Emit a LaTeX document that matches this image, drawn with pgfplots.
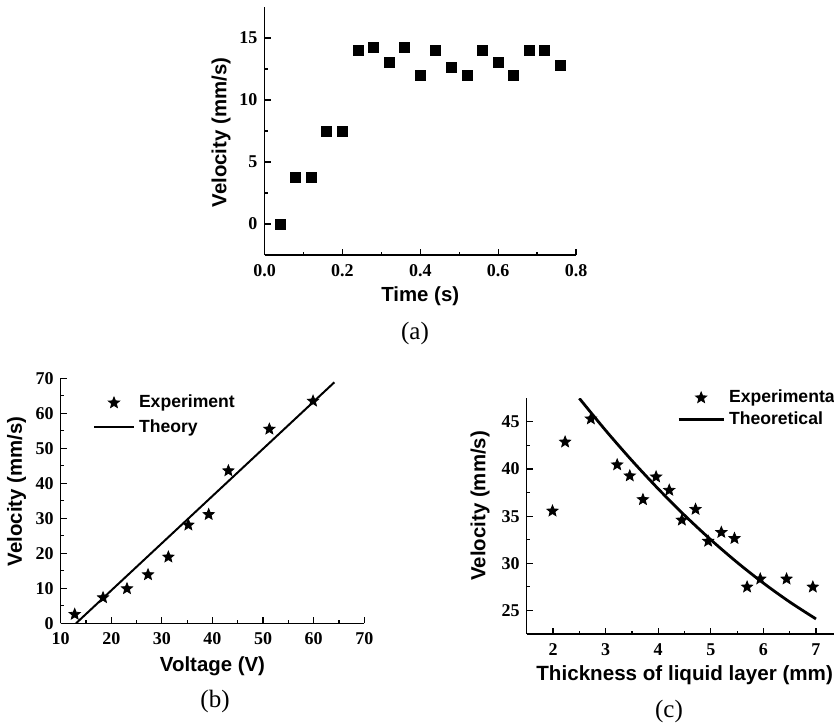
\documentclass[border=0pt]{standalone}
\usepackage{fontspec}
\setmainfont{Liberation Serif}
\setsansfont{Liberation Sans}
\usepackage{pgfplots}
\pgfplotsset{compat=1.18}

\pgfdeclareplotmark{fstar}{%
 \pgfpathmoveto{\pgfpointpolar{90}{\pgfplotmarksize}}%
 \pgfpathlineto{\pgfpointpolar{126}{0.44\pgfplotmarksize}}%
 \pgfpathlineto{\pgfpointpolar{162}{\pgfplotmarksize}}%
 \pgfpathlineto{\pgfpointpolar{198}{0.44\pgfplotmarksize}}%
 \pgfpathlineto{\pgfpointpolar{234}{\pgfplotmarksize}}%
 \pgfpathlineto{\pgfpointpolar{270}{0.44\pgfplotmarksize}}%
 \pgfpathlineto{\pgfpointpolar{306}{\pgfplotmarksize}}%
 \pgfpathlineto{\pgfpointpolar{342}{0.44\pgfplotmarksize}}%
 \pgfpathlineto{\pgfpointpolar{18}{\pgfplotmarksize}}%
 \pgfpathlineto{\pgfpointpolar{54}{0.44\pgfplotmarksize}}%
 \pgfpathclose
 \pgfusepathqfillstroke}

\pgfplotsset{
 myax/.style={
  scale only axis,
  axis x line*=bottom, axis y line*=left,
  axis line style={line width=0.7pt, -},
  tick align=inside,
  major tick length=3pt, minor tick length=1.6pt,
  every tick/.style={line width=0.6pt, black},
  minor tick num=1,
  tick label style={font=\bfseries\fontsize{9}{10}\selectfont},
  /pgf/number format/assume math mode=true,
  xticklabel style={yshift=-1.2pt},
  label style={font=\sffamily\bfseries\fontsize{10.2}{12}\selectfont, inner sep=0pt},
  legend style={draw=none, fill=none, inner sep=0pt, outer sep=0pt,
    font=\sffamily\bfseries\fontsize{8.8}{10}\selectfont,
    nodes={inner sep=0pt}, column sep=2pt},
  legend cell align=left,
 }
}

\begin{document}
\begin{tikzpicture}
% ---------------- (a) ----------------
\begin{axis}[myax, at={(132.25pt,-127.5pt)}, anchor=south west,
  width=155.75pt, height=124pt,
  xmin=0, xmax=0.8, ymin=-2.5, ymax=17.5,
  xtick={0,0.2,0.4,0.6,0.8}, ytick={0,5,10,15},
  xticklabel style={/pgf/number format/.cd, fixed, fixed zerofill, precision=1},
  xlabel={Time (s)}, ylabel={Velocity (mm/s)},
  xlabel style={at={([yshift=-20.5pt]axis description cs:0.5,0)}, anchor=center},
  ylabel style={at={([xshift=-21.75pt]axis description cs:0,0.494)}, anchor=center},
]
\addplot[only marks, mark=square*, mark size=2.5pt, black] coordinates {
(0.04,0) (0.08,3.76) (0.12,3.76) (0.16,7.49) (0.20,7.49) (0.24,14.03)
(0.28,14.27) (0.32,13.03) (0.36,14.27) (0.40,12.0) (0.44,14.03) (0.48,12.62)
(0.52,12.0) (0.56,14.03) (0.60,13.03) (0.64,12.0) (0.68,14.03) (0.72,14.03)
(0.76,12.76)};
\end{axis}

% ---------------- (b) ----------------
\begin{axis}[myax, at={(30.35pt,-311.65pt)}, anchor=south west,
  width=151.8pt, height=122.5pt,
  xmin=10, xmax=70, ymin=0, ymax=70,
  xtick={10,20,...,70}, ytick={0,10,...,70},
  xlabel={Voltage (V)}, ylabel={Velocity (mm/s)},
  xlabel style={at={([yshift=-21.7pt]axis description cs:0.5,0)}, anchor=center},
  ylabel style={at={([xshift=-22pt]axis description cs:0,0.539)}, anchor=center},
  legend image code/.code={\draw[mark repeat=2,mark phase=2,#1] plot coordinates {(0pt,0pt) (10pt,0pt) (20pt,0pt)};},
  legend style={at={(axis description cs:0.1064,0.932)}, anchor=north west, row sep=4.3pt},
]
\addplot[only marks, mark=fstar, mark size=2.9pt, black] coordinates {
(12.77,2.57) (18.37,7.33) (23.1,9.9) (27.26,13.9) (31.28,18.95)
(35.23,28.1) (39.25,31.1) (43.14,43.6) (51.24,55.5) (59.87,63.5)};
\addlegendentry{Experiment}
\addplot[black, line width=1pt, no marks] coordinates {(13.03,0) (64.08,68.86)};
\addlegendentry{Theory}
\end{axis}

% ---------------- (c) ----------------
\begin{axis}[myax, at={(263.35pt,-317pt)}, anchor=south west,
  width=157.8pt, height=117.85pt,
  xmin=1.5, xmax=7.5, ymin=22.5, ymax=47.5,
  xtick={2,3,...,7}, ytick={25,30,...,45},
  xlabel={Thickness of liquid layer (mm)}, ylabel={Velocity (mm/s)},
  xlabel style={font=\sffamily\bfseries\fontsize{10.3}{12}\selectfont, at={([xshift=4.65pt,yshift=-20.5pt]axis description cs:0,0)}, anchor=west},
  ylabel style={at={([xshift=-23.3pt]axis description cs:0,0.544)}, anchor=center},
  legend image code/.code={\draw[mark repeat=2,mark phase=2,#1] plot coordinates {(0pt,0pt) (11.25pt,0pt) (22.5pt,0pt)};},
  legend style={at={(axis description cs:0.477,1.0356)}, anchor=north west, row sep=3pt},
]
\addplot[only marks, mark=fstar, mark size=2.9pt, black] coordinates {
(1.99,35.55) (2.23,42.87) (2.72,45.32) (3.22,40.45) (3.46,39.28) (3.71,36.76)
(3.96,39.17) (4.21,37.75) (4.45,34.59) (4.71,35.73) (4.95,32.35) (5.20,33.28)
(5.45,32.64) (5.69,27.49) (5.94,28.34) (6.44,28.34) (6.94,27.49)};
\addlegendentry{Experimental}
\addplot[black, line width=1.4pt, no marks, smooth] coordinates {
(2.5,47.5) (3,44.1) (3.5,40.9) (4,37.9) (4.5,35.1) (5,32.5) (5.5,30.1)
(6,27.9) (6.5,25.9) (7,24.1)};
\addlegendentry{Theoretical}
\end{axis}

\node[font=\fontsize{12.5}{15}\selectfont] at (207.5pt,-166.5pt) {(a)};
\node[font=\fontsize{12.5}{15}\selectfont] at (107.5pt,-350.85pt) {(b)};
\node[font=\fontsize{12.5}{15}\selectfont] at (334.5pt,-355.5pt) {(c)};

\pgfresetboundingbox
\path[use as bounding box] (0pt,0pt) rectangle (417pt,-362.5pt);
\end{tikzpicture}
\end{document}
